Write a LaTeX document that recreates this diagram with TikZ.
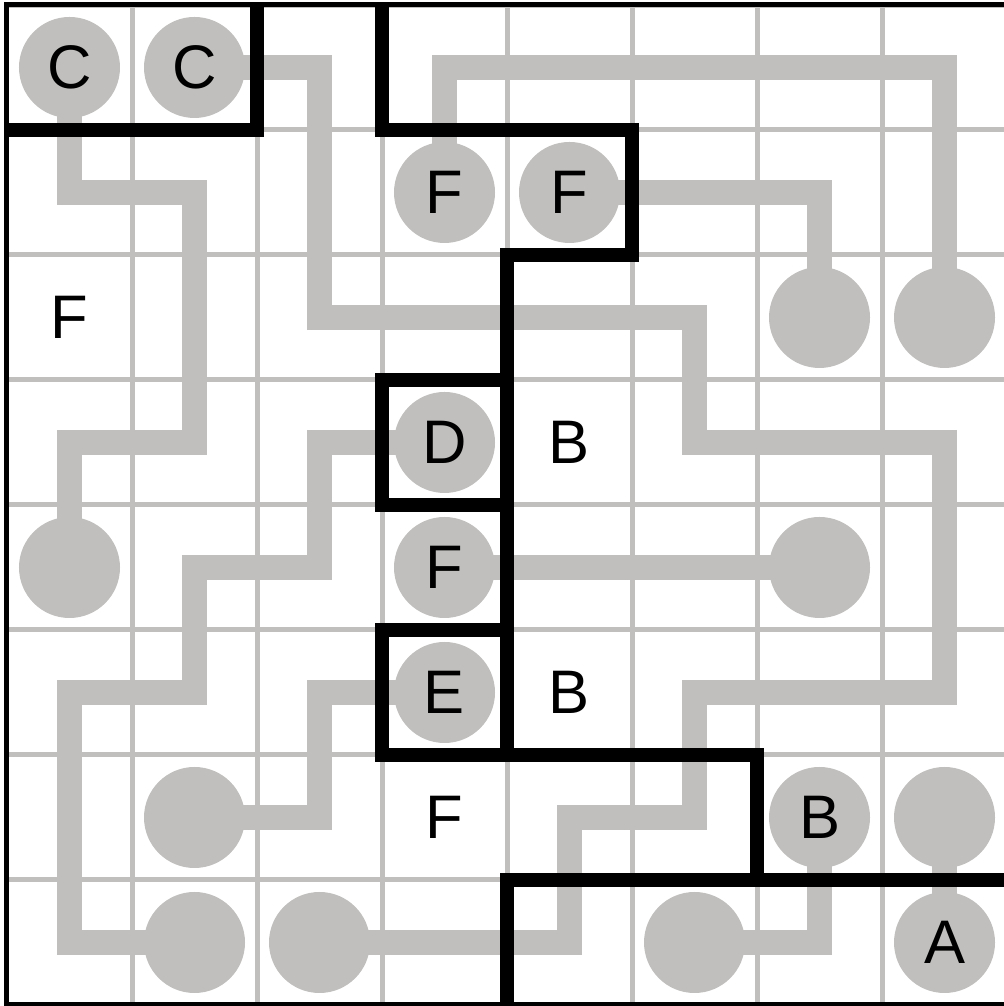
\documentclass[tikz,border=0pt]{standalone}
\usepackage{fontspec}
\setmainfont{Liberation Sans}
\usepackage{tikz}
\usetikzlibrary{backgrounds}

\definecolor{wiregray}{RGB}{192,191,189}

\tikzset{
  pin/.style={circle,fill=wiregray,minimum size=0.808cm,inner sep=0pt,font=\fontsize{14}{16}\selectfont},
  plain/.style={inner sep=0pt,font=\fontsize{14}{16}\selectfont},
  wire/.style={draw=wiregray,line width=0.195cm,line join=miter},
  gridline/.style={draw=wiregray,line width=0.04cm},
  wall/.style={draw=black,line width=0.105cm,line join=miter},
  frame/.style={draw=black,line width=0.04cm}
}

\begin{document}
\begin{tikzpicture}
  \useasboundingbox (-0.056,-0.008) rectangle (7.968,8.04);

  \draw (0.5,7.5) node[pin] (C1) {C};
  \draw (1.5,7.5) node[pin] (C2) {C};
  \draw (3.5,6.5) node[pin] (F1) {F};
  \draw (4.5,6.5) node[pin] (F2) {F};
  \draw (6.5,5.5) node[pin] (o1) {};
  \draw (7.5,5.5) node[pin] (o2) {};
  \draw (0.5,5.5) node[plain] (F4) {F};
  \draw (3.5,4.5) node[pin] (D) {D};
  \draw (4.5,4.5) node[plain] (B2) {B};
  \draw (0.5,3.5) node[pin] (o3) {};
  \draw (3.5,3.5) node[pin] (F3) {F};
  \draw (6.5,3.5) node[pin] (o4) {};
  \draw (3.5,2.5) node[pin] (E) {E};
  \draw (4.5,2.5) node[plain] (B3) {B};
  \draw (1.5,1.5) node[pin] (o5) {};
  \draw (3.5,1.5) node[plain] (F5) {F};
  \draw (6.5,1.5) node[pin] (B1) {B};
  \draw (7.5,1.5) node[pin] (o7) {};
  \draw (1.5,0.5) node[pin] (o6) {};
  \draw (2.5,0.5) node[pin] (o8) {};
  \draw (5.5,0.5) node[pin] (o9) {};
  \draw (7.5,0.5) node[pin] (A) {A};

  \begin{scope}[on background layer]
    \draw[gridline] (0,0) grid (8,8);
    \path[wire] (C2.center) -| (2.5,5.5) -| (5.5,4.5) -| (7.5,2.5) -| (5.5,1.5) -| (4.5,0.5) -- (o8.center);
    \path[wire] (C1.center) |- (1.5,6.5) |- (0.5,4.5) -- (o3.center);
    \path[wire] (F1.center) -- (3.5,7.5) -| (o2.center);
    \path[wire] (F2.center) -| (o1.center);
    \path[wire] (D.center) -| (2.5,3.5) -| (1.5,2.5) -| (0.5,0.5) -- (o6.center);
    \path[wire] (F3.center) -- (o4.center);
    \path[wire] (E.center) -| (2.5,1.5) -- (o5.center);
    \path[wire] (B1.center) |- (o9.center);
    \path[wire] (o7.center) -- (A.center);
  \end{scope}

  \path[wall] (0,7) -- (2,7) -- (2,8);
  \path[wall] (3,8) -- (3,7) -- (5,7) -- (5,6) -- (4,6) -- (4,2) -- (6,2) -- (6,1) -- (8,1);
  \path[wall] (4,5) -- (3,5) -- (3,4) -- (4,4);
  \path[wall] (4,3) -- (3,3) -- (3,2) -- (4,2);
  \path[wall] (4,0) -- (4,1) -- (6,1);
  \draw[frame] (0,0) rectangle (8,8);
\end{tikzpicture}
\end{document}
